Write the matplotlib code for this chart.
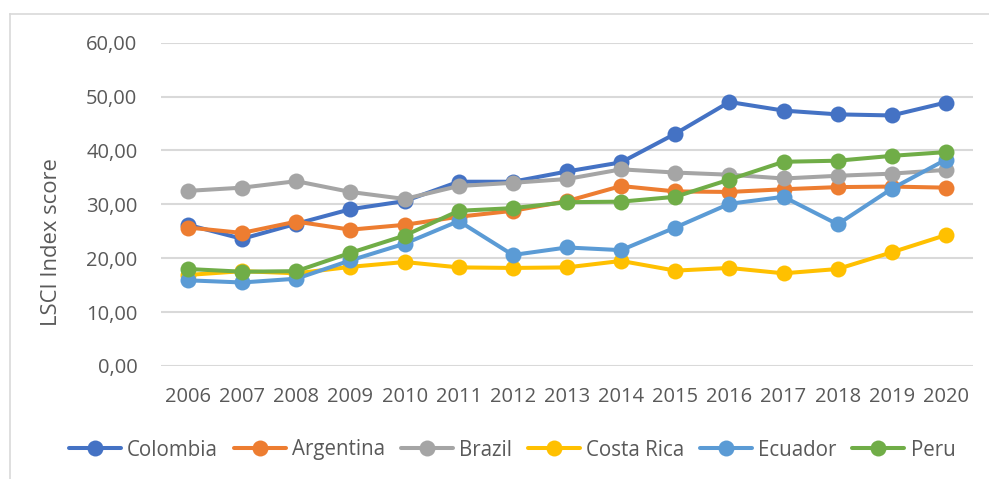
import matplotlib
matplotlib.use("Agg")
import matplotlib.pyplot as plt
from matplotlib.lines import Line2D
from matplotlib.ticker import FuncFormatter, MultipleLocator

plt.rcParams['font.family'] = ['Open Sans', 'DejaVu Sans']

years = [2006, 2007, 2008, 2009, 2010, 2011, 2012, 2013, 2014, 2015, 2016, 2017, 2018, 2019, 2020]

colombia = [26.2, 23.6, 26.4, 29.1, 30.6, 34.2, 34.2, 36.1, 37.8, 43.1, 49.0, 47.4, 46.7, 46.5, 48.9]
argentina = [25.7, 24.7, 26.8, 25.3, 26.2, 27.7, 28.8, 30.6, 33.4, 32.4, 32.3, 32.8, 33.2, 33.3, 33.1]
brazil = [32.5, 33.1, 34.3, 32.3, 31.0, 33.4, 34.0, 34.7, 36.5, 35.9, 35.5, 34.8, 35.3, 35.7, 36.4]
costa_rica = [16.9, 17.6, 17.2, 18.4, 19.3, 18.3, 18.2, 18.3, 19.5, 17.7, 18.2, 17.2, 18.0, 21.1, 24.3]
ecuador = [15.9, 15.5, 16.2, 19.6, 22.7, 26.9, 20.6, 22.0, 21.5, 25.7, 30.1, 31.4, 26.3, 32.9, 38.3]
peru = [18.0, 17.5, 17.6, 21.0, 24.2, 28.8, 29.3, 30.4, 30.5, 31.4, 34.6, 37.9, 38.1, 39.0, 39.7]

series = [
    ("Colombia", colombia, "#4472C4"),
    ("Argentina", argentina, "#ED7D31"),
    ("Brazil", brazil, "#A5A5A5"),
    ("Costa Rica", costa_rica, "#FFC000"),
    ("Ecuador", ecuador, "#5B9BD5"),
    ("Peru", peru, "#70AD47"),
]

text_color = "#595959"
grid_color = "#D9D9D9"

fig = plt.figure(figsize=(9.89, 4.79), dpi=100)
ax = fig.add_axes([161 / 989, 1 - 366 / 479, (973 - 161) / 989, (366 - 42.7) / 479])

x = list(range(len(years)))
for name, vals, color in series:
    ax.plot(x, vals, color=color, lw=2.9, marker="o", markersize=11.5,
            markeredgewidth=0, label=name, solid_capstyle="round")

ax.set_xlim(-0.5, len(years) - 0.5)
ax.set_ylim(0, 60)
ax.yaxis.set_major_locator(MultipleLocator(10))
ax.yaxis.set_major_formatter(FuncFormatter(lambda v, p: f"{v:.2f}".replace(".", ",")))
ax.set_xticks(x)
ax.set_xticklabels([str(y) for y in years])

ax.grid(axis="y", color=grid_color, lw=1.5)
ax.set_axisbelow(True)
for s in ax.spines.values():
    s.set_visible(False)
ax.tick_params(axis="both", length=0, labelsize=14.5, colors=text_color)
ax.tick_params(axis="y", pad=17)
ax.tick_params(axis="x", pad=15)

fig.text(52 / 989, 1 - 242.5 / 479, "LSCI Index score", rotation=90,
         ha="center", va="center", fontsize=15.8, color=text_color)

leg = fig.legend(loc="center", bbox_to_anchor=(512 / 989, 1 - 450 / 479), ncol=6,
                 frameon=False, fontsize=14.8, handlelength=2.55, handletextpad=0.3,
                 columnspacing=0.75, labelcolor=text_color)

# outer chart frame (top and left edges)
fig.add_artist(Line2D([10 / 989, 1.0], [1 - 14 / 479, 1 - 14 / 479],
                      transform=fig.transFigure, color=grid_color, lw=1.2))
fig.add_artist(Line2D([10 / 989, 10 / 989], [0.0, 1 - 14 / 479],
                      transform=fig.transFigure, color=grid_color, lw=1.2))

fig.savefig("out.png", dpi=100, facecolor="white")
